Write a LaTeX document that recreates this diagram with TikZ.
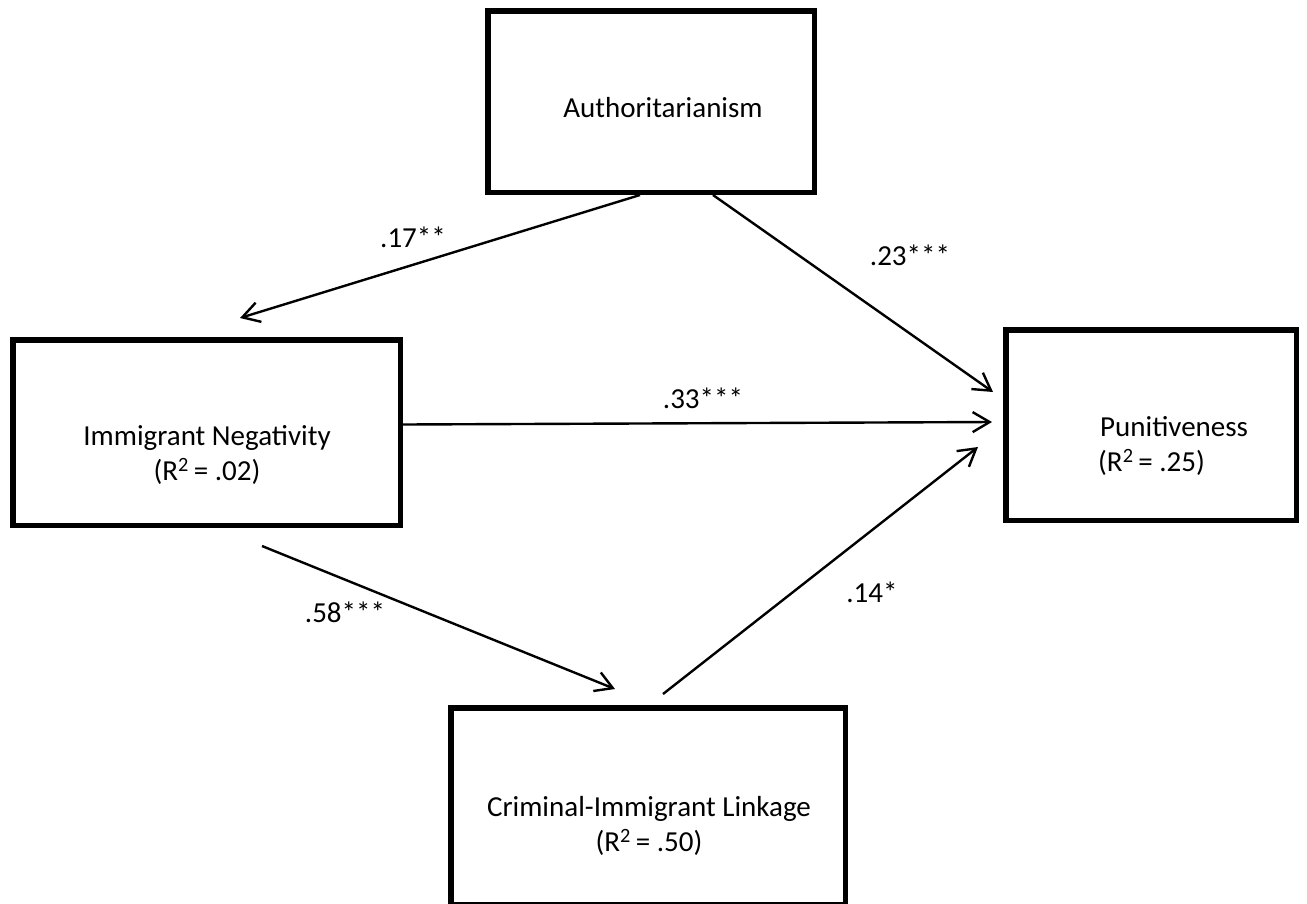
\documentclass[tikz,border=0pt]{standalone}
\usepackage{fontspec}
\setmainfont{Carlito}
\usetikzlibrary{arrows.meta}
\usetikzlibrary{positioning}

\tikzset{
  box/.style={draw,line width=5.5pt,inner sep=0pt},
  txt/.style={font=\fontsize{29}{35}\selectfont,inner sep=0pt,align=center},
  coef/.style={font=\fontsize{29}{35}\selectfont,inner sep=0pt}
}

\begin{document}
\begin{tikzpicture}[x=1pt,y=-1pt,>={Straight Barb[length=17pt,width=20pt]},line width=2.4pt]
\useasboundingbox (0,0) rectangle (1307,903);

\node[box,minimum width=326.5pt,minimum height=181.5pt] (auth) at (651,101.5) {};
\node[box,minimum width=387.5pt,minimum height=185.5pt] (immneg) at (206.5,432.5) {};
\node[box,minimum width=290.5pt,minimum height=190.5pt] (punit) at (1151,425) {};
\node[box,minimum width=394.5pt,minimum height=196.5pt] (crim) at (648,806) {};

\node[txt] (authtxt) at (663,108) {Authoritarianism};
\node[txt] (immtxt) at (207,455) {Immigrant Negativity\\(R\textsuperscript{2}\,= .02)};
\node[txt,align=left,anchor=west] (puntxt) at (1097,446) {\kern2pt Punitiveness\\(R\textsuperscript{2}\,= .25)};
\node[txt] (crimtxt) at (649,826) {Criminal-Immigrant Linkage\\(R\textsuperscript{2}\,= .50)};

% arrow ends
\coordinate (s17) at ([xshift=-11pt]auth.south);
\coordinate (e17) at ([xshift=33.5pt,yshift=19pt]immneg.north);
\coordinate (s23) at ([xshift=62pt]auth.south);
\coordinate (e23) at ([xshift=-10pt,yshift=33pt]punit.west);
\coordinate (s33) at ([yshift=8pt]immneg.east);
\coordinate (e33) at ([xshift=-11pt,yshift=3pt]punit.west);
\coordinate (s58) at ([xshift=55.5pt,yshift=-18pt]immneg.south);
\coordinate (e58) at ([xshift=-33pt,yshift=16pt]crim.north);
\coordinate (s14) at ([xshift=15pt,yshift=11pt]crim.north);
\coordinate (e14) at ([xshift=-25pt,yshift=-22pt]punit.west);

\draw[->] (s17) -- (e17);
\draw[->] (s23) -- (e23);
\draw[->] (s33) -- (e33);
\draw[->] (s58) -- (e58);
\draw[->] (s14) -- (e14);

\node[coef] (c17) at (413,237) {.17**};
\node[coef] (c23) at (910,255) {.23***};
\node[coef] (c33) at (703,398) {.33***};
\node[coef] (c58) at (345,612) {.58***};
\node[coef] (c14) at (872,592) {.14*};

\end{tikzpicture}
\end{document}
